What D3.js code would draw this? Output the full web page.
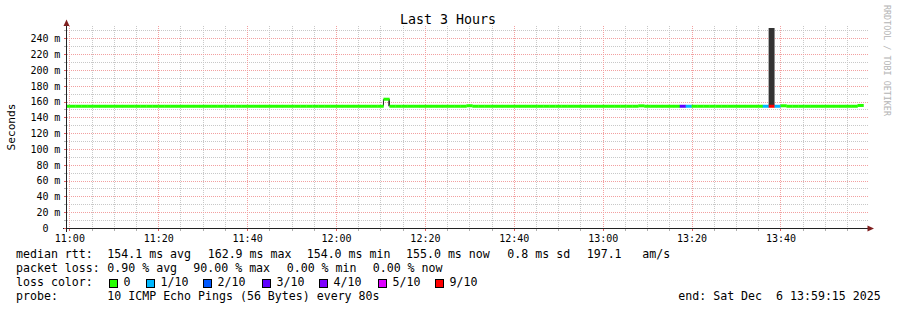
<!DOCTYPE html>
<html><head><meta charset="utf-8">
<script src="https://cdn.jsdelivr.net/npm/d3@7"></script>
<style>
body{margin:0;background:#fff}
text{font-family:"DejaVu Sans Mono",monospace;fill:#000}
</style>
</head><body>
<svg id="c" width="897" height="310"></svg>
<script>
// ---------- data ----------
const stepSeconds = 80;
const firstSample = "2025-12-06T10:58:40Z";
const viewStart = "2025-12-06T10:59:28Z";
const viewEnd = "2025-12-06T13:59:28Z";
// median rtt per 80 s sample (ms)
const medianMs = [
 154.0,154.0,154.0,154.0,154.0,154.0,154.0,154.0,154.0,154.0,
 154.0,154.0,154.0,154.0,154.0,154.0,154.0,154.0,154.0,154.0,
 154.0,154.0,154.0,154.0,154.0,154.0,154.0,154.0,154.0,154.0,
 154.0,154.0,154.0,154.0,154.0,154.0,154.0,154.0,154.0,154.0,
 154.0,154.0,154.0,154.0,154.0,154.0,154.0,154.0,154.0,154.0,
 154.0,154.0,154.0,154.0,162.9,154.0,154.0,154.0,154.0,154.0,
 154.0,154.0,154.0,154.0,154.0,154.0,154.0,154.0,154.6,154.0,
 154.0,154.0,154.0,154.0,154.0,154.0,154.0,154.0,154.0,154.0,
 154.0,154.0,154.0,154.0,154.0,154.0,154.0,154.0,154.0,154.0,
 154.0,154.0,154.0,154.0,154.0,154.0,154.0,154.5,154.0,154.0,
 154.0,154.0,154.0,154.0,154.0,154.0,154.0,154.0,154.0,154.0,
 154.0,154.0,154.0,154.0,154.0,154.0,154.0,154.0,154.0,154.0,
 154.0,154.6,154.0,154.0,154.0,154.0,154.0,154.0,154.0,154.0,
 154.0,154.0,154.0,154.0,155.0
];
// lost pings out of 10 per sample
const lossCount = [
 0,0,0,0,0,0,0,0,0,0, 0,0,0,0,0,0,0,0,0,0,
 0,0,0,0,0,0,0,0,0,0, 0,0,0,0,0,0,0,0,0,0,
 0,0,0,0,0,0,0,0,0,0, 0,0,0,0,0,0,0,0,0,0,
 0,0,0,0,0,0,0,0,0,0, 0,0,0,0,0,0,0,0,0,0,
 0,0,0,0,0,0,0,0,0,0, 0,0,0,0,0,0,0,0,0,0,
 0,0,0,0,3,1,0,0,0,0, 0,0,0,0,0,0,0,0,1,9,
 1,0,0,0,0,0,0,0,0,0, 0,0,0,0,0
];
// smoke (spread of pings) that is visible above the median line
const smokeSampleIndex = [119];
const smokeTopMs = [275];
// loss legend
const lossLabels = ["0","1/10","2/10","3/10","4/10","5/10","9/10"];
const lossLevels = [0,1,2,3,4,5,9];
const lossColors = ["#26ff00","#00b8ff","#0059ff","#5e00ff","#7e00ff","#dd00ff","#ff0000"];
// y ticks (ms)
const yMax = 253;
const yLabelValues = [0,20,40,60,80,100,120,140,160,180,200,220,240];
// legend rows
const statsRtt = ["154.1 ms avg","162.9 ms max","154.0 ms min","155.0 ms now","0.8 ms sd","197.1","am/s"];
const statsLoss = ["0.90 % avg","90.00 % max","0.00 % min","0.00 % now"];
const probeText = "10 ICMP Echo Pings (56 Bytes) every 80s";
const endText = "end: Sat Dec  6 13:59:15 2025";
const titleText = "Last 3 Hours";

// ---------- layout ----------
const svg = d3.select("#c");
const L = 67, R = 867, T = 28, B = 228;
const x = d3.scaleUtc().domain([new Date(viewStart), new Date(viewEnd)]).range([L, R]);
const y = d3.scaleLinear().domain([0, yMax]).range([B, T]);
const t0 = new Date(firstSample).getTime();
const samples = medianMs.map((v,i)=>({
  t: new Date(t0 + i*stepSeconds*1000),
  t1: new Date(t0 + (i+1)*stepSeconds*1000),
  v, loss: lossCount[i]
}));
const colorOf = l => lossColors[lossLevels.indexOf(l)] || "#26ff00";

svg.append("rect").attr("width",897).attr("height",310).attr("fill","#fff");

// grid
const g = svg.append("g");
const minorT = d3.utcMinute.every(5).range(x.domain()[0], x.domain()[1]);
const isMajorT = d => d.getUTCMinutes() % 20 === 0;
const px = v => Math.round(v) + 0.5;
g.selectAll("line.vmin").data(minorT.filter(d=>!isMajorT(d))).join("line")
  .attr("x1",d=>px(x(d))).attr("x2",d=>px(x(d))).attr("y1",T-2).attr("y2",B)
  .attr("stroke","#c8c8c8").attr("stroke-dasharray","1,1");
const yGrid = d3.range(10, yMax, 10);
g.selectAll("line.hmin").data(yGrid.filter(v=>v%20)).join("line")
  .attr("x1",L).attr("x2",R+1).attr("y1",d=>px(y(d))).attr("y2",d=>px(y(d)))
  .attr("stroke","#c8c8c8").attr("stroke-dasharray","1,1");
g.selectAll("line.hmaj").data(yGrid.filter(v=>v%20===0)).join("line")
  .attr("x1",L).attr("x2",R+1).attr("y1",d=>px(y(d))).attr("y2",d=>px(y(d)))
  .attr("stroke","#f2a0a0").attr("stroke-dasharray","1,1");
g.selectAll("line.vmaj").data(minorT.filter(isMajorT)).join("line")
  .attr("x1",d=>px(x(d))).attr("x2",d=>px(x(d))).attr("y1",T-2).attr("y2",B)
  .attr("stroke","#f2a0a0").attr("stroke-dasharray","1,1");

// data
svg.append("clipPath").attr("id","cp").append("rect")
  .attr("x",L).attr("y",T).attr("width",R-L).attr("height",B-T);
const dg = svg.append("g").attr("clip-path","url(#cp)");
dg.selectAll("rect.smoke").data(smokeSampleIndex).join("rect")
  .attr("x",i=>x(samples[i].t)).attr("width",i=>x(samples[i].t1)-x(samples[i].t))
  .attr("y",(i,k)=>y(smokeTopMs[k])).attr("height",(i,k)=>y(samples[i].v)-y(smokeTopMs[k]))
  .attr("fill","#333333");
const conn = samples.slice(1).map((s,i)=>({s, prev: samples[i]})).filter(d=>Math.abs(d.s.v-d.prev.v)>3);
dg.selectAll("line.conn").data(conn).join("line")
  .attr("x1",d=>x(d.s.t)).attr("x2",d=>x(d.s.t))
  .attr("y1",d=>y(d.prev.v)).attr("y2",d=>y(d.s.v))
  .attr("stroke","#222").attr("stroke-width",1);
// connectors back down after a jump
const connDown = samples.slice(0,-1).map((s,i)=>({s, next: samples[i+1]})).filter(d=>Math.abs(d.s.v-d.next.v)>3 && d.s.v>d.next.v);
dg.selectAll("line.conn2").data(connDown).join("line")
  .attr("x1",d=>x(d.s.t1)-0.5).attr("x2",d=>x(d.s.t1)-0.5)
  .attr("y1",d=>y(d.s.v)).attr("y2",d=>y(d.next.v))
  .attr("stroke","#222").attr("stroke-width",1);
dg.selectAll("rect.med").data(samples).join("rect")
  .attr("x",d=>x(d.t)).attr("width",d=>x(d.t1)-x(d.t)+0.3)
  .attr("y",d=>y(d.v)-1.5).attr("height",3)
  .attr("fill",d=>colorOf(d.loss));

// axes
const ax = svg.append("g");
ax.append("line").attr("x1",63).attr("x2",868).attr("y1",228.5).attr("y2",228.5).attr("stroke","#222");
ax.append("line").attr("x1",66.5).attr("x2",66.5).attr("y1",232).attr("y2",25).attr("stroke","#222");
ax.append("path").attr("d","M66.5,19.5L63.5,26L69.5,26Z").attr("fill","#7f1f1f");
ax.append("path").attr("d","M874,228.5L867.5,225.5L867.5,231.5Z").attr("fill","#7f1f1f");
ax.selectAll("line.xt").data(minorT).join("line")
  .attr("x1",d=>px(x(d))).attr("x2",d=>px(x(d))).attr("y1",229).attr("y2",231)
  .attr("stroke",d=>isMajorT(d)?"#e06060":"#b0b0b0");
ax.selectAll("line.yt").data(yGrid.concat([0])).join("line")
  .attr("x1",64).attr("x2",66).attr("y1",d=>px(y(d))).attr("y2",d=>px(y(d)))
  .attr("stroke",d=>d%20===0?"#e06060":"#b0b0b0");

// tick labels
const fmt = d3.utcFormat("%H:%M");
svg.append("g").selectAll("text").data(minorT.filter(isMajorT)).join("text")
  .attr("x",d=>x(d)+0.5).attr("y",241.5).attr("text-anchor","middle")
  .attr("font-size","10px").text(d=>fmt(d));
const yl = svg.append("g");
yl.selectAll("text.n").data(yLabelValues).join("text")
  .attr("x",48.5).attr("y",d=>y(d)+3.8).attr("text-anchor","end")
  .attr("font-size","10px").text(d=>d);
yl.selectAll("text.u").data(yLabelValues.filter(d=>d>0)).join("text")
  .attr("x",54.2).attr("y",d=>y(d)+3.8)
  .attr("font-size","10px").text("m");

// titles
svg.append("text").attr("x",448).attr("y",24).attr("text-anchor","middle")
  .attr("font-size","13.3px").text(titleText);
svg.append("text").attr("transform","translate(15,127) rotate(-90)").attr("text-anchor","middle")
  .attr("font-size","11.2px").text("Seconds");
svg.append("text").attr("transform","translate(884,5) rotate(90)")
  .attr("font-size","8.4px").style("fill","#b4b4b4").text("RRDTOOL / TOBI OETIKER");

// legend
const lf = "11.6px";
const addT = (xp, yp, s) => svg.append("text").attr("x",xp).attr("y",yp).attr("font-size",lf)
  .style("white-space","pre").text(s);
addT(16,258,"median rtt:");
[107.3,207.7,306.7,406,507.3,586.7,642.3].forEach((xp,i)=>addT(xp,258,statsRtt[i]));
addT(16,272,"packet loss:");
[107.3,193.3,286.7,372.7].forEach((xp,i)=>addT(xp,272,statsLoss[i]));
addT(16,286,"loss color:");
const boxX = [109,146,203,262,319,378,435];
lossLabels.forEach((lab,i)=>{
  svg.append("rect").attr("x",boxX[i]+0.5).attr("y",279.5).attr("width",8).attr("height",8)
    .attr("fill",lossColors[i]).attr("stroke","#000").attr("stroke-width",1);
  addT(boxX[i]+14.5,286,lab);
});
addT(16,300,"probe:");
addT(107.3,300,probeText);
addT(678.3,300,endText);
</script>
</body></html>
